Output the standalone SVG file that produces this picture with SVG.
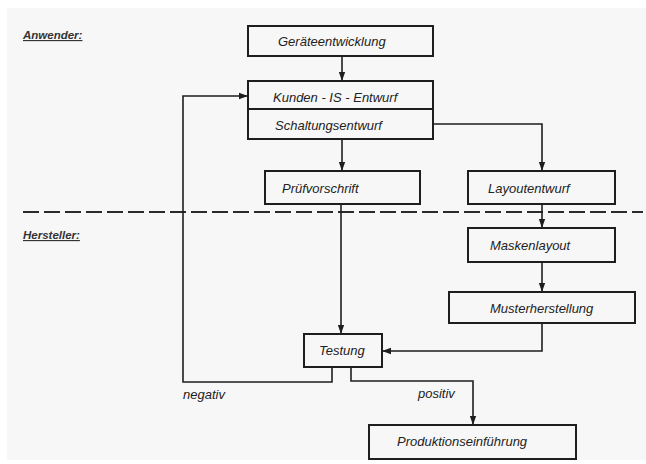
<svg xmlns="http://www.w3.org/2000/svg" width="646" height="464" viewBox="0 0 646 464">
<defs>
<marker id="ah" viewBox="0 0 10 10" refX="10" refY="5" markerWidth="9" markerHeight="9" markerUnits="userSpaceOnUse" orient="auto">
<path d="M0,1.5 L10,5 L0,8.5 Z" fill="#1e1e1e"/>
</marker>
<style>
.box{fill:none;stroke:#1e1e1e;stroke-width:2}
.ln{fill:none;stroke:#1e1e1e;stroke-width:1.6}
.t{font-family:"Liberation Sans","DejaVu Sans",sans-serif;font-style:italic;font-size:13px;fill:#222}
.h{font-family:"Liberation Sans","DejaVu Sans",sans-serif;font-style:italic;font-weight:bold;font-size:11.5px;fill:#333;text-decoration:underline}
</style>
</defs>
<rect width="646" height="464" fill="#ffffff"/>
<rect x="7" y="8" width="639" height="452" fill="#f7f7f7"/>
<text class="h" x="23" y="39">Anwender:</text>
<text class="h" x="23" y="239">Hersteller:</text>
<line x1="23" y1="212" x2="643" y2="212" stroke="#2a2a2a" stroke-width="2" stroke-dasharray="16,5"/>
<g id="connectors">
<line class="ln" x1="342" y1="56" x2="342" y2="81" marker-end="url(#ah)"/>
<line class="ln" x1="342" y1="139" x2="342" y2="171" marker-end="url(#ah)"/>
<polyline class="ln" points="433,124 542,124 542,171" marker-end="url(#ah)"/>
<line class="ln" x1="542" y1="204" x2="542" y2="228" marker-end="url(#ah)"/>
<line class="ln" x1="542" y1="262" x2="542" y2="292" marker-end="url(#ah)"/>
<line class="ln" x1="341" y1="204" x2="341" y2="334" marker-end="url(#ah)"/>
<polyline class="ln" points="542,323 542,351 382,351" marker-end="url(#ah)"/>
<polyline class="ln" points="332,367 332,382 183,382 183,96 248,96" marker-end="url(#ah)"/>
<polyline class="ln" points="351,367 351,381 473,381 473,425" marker-end="url(#ah)"/>
<text class="t" x="183" y="399">negativ</text>
<text class="t" x="418" y="398">positiv</text>
</g>
<g id="n1"><rect class="box" x="248" y="26" width="185" height="30"/><text class="t" x="278" y="46">Geräteentwicklung</text></g>
<g id="n2"><rect class="box" x="248" y="81" width="185" height="58"/><line class="box" x1="248" y1="109" x2="433" y2="109"/><text class="t" x="273" y="102">Kunden - IS - Entwurf</text><text class="t" x="275" y="130">Schaltungsentwurf</text></g>
<g id="n3"><rect class="box" x="265" y="171" width="155" height="33"/><text class="t" x="282" y="193">Prüfvorschrift</text></g>
<g id="n4"><rect class="box" x="468" y="171" width="147" height="33"/><text class="t" x="488" y="193">Layoutentwurf</text></g>
<g id="n5"><rect class="box" x="468" y="228" width="147" height="34"/><text class="t" x="490" y="250">Maskenlayout</text></g>
<g id="n6"><rect class="box" x="449" y="292" width="186" height="31"/><text class="t" x="490" y="313">Musterherstellung</text></g>
<g id="n7"><rect class="box" x="304" y="334" width="78" height="33"/><text class="t" x="319" y="355">Testung</text></g>
<g id="n8"><rect class="box" x="369" y="425" width="207" height="34"/><text class="t" x="397" y="446">Produktionseinführung</text></g>
</svg>
